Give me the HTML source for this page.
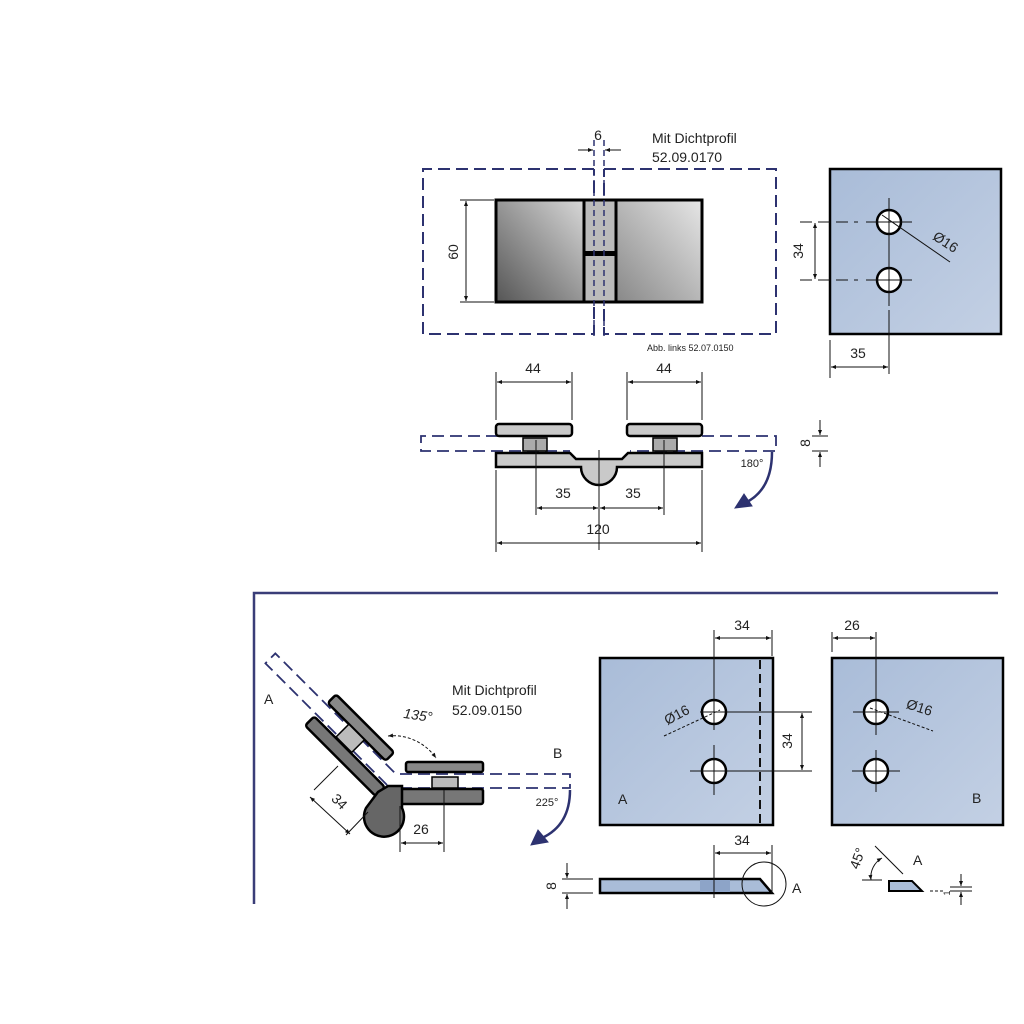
<!DOCTYPE html>
<html><head><meta charset="utf-8"><style>
html,body{margin:0;padding:0;background:#fff;}
svg{display:block;}
text{font-family:"Liberation Sans",sans-serif;fill:#222;}
</style></head><body>
<svg width="1024" height="1024" viewBox="0 0 1024 1024" xmlns="http://www.w3.org/2000/svg">
<defs>
<marker id="ar" viewBox="0 0 10 10" refX="10" refY="5" markerWidth="7" markerHeight="5" orient="auto-start-reverse"><path d="M0,1 L10,5 L0,9 z" fill="#111"/></marker>
<linearGradient id="gm" x1="0" y1="1" x2="1" y2="0"><stop offset="0" stop-color="#555"/><stop offset="1" stop-color="#d8d8d8"/></linearGradient>
<linearGradient id="gm2" x1="0" y1="1" x2="1" y2="0"><stop offset="0" stop-color="#888"/><stop offset="1" stop-color="#e6e6e6"/></linearGradient>
<linearGradient id="gb" x1="0" y1="0" x2="1" y2="1"><stop offset="0" stop-color="#a9bcd8"/><stop offset="1" stop-color="#c3d0e4"/></linearGradient>
</defs>
<g stroke="#111" stroke-width="1" fill="none">

<!-- TOP FRONT VIEW -->
<g stroke="#2d3270" stroke-width="2" stroke-dasharray="12,6">
<path d="M594,169 H423 V334 H594 V169"/>
<path d="M604,169 H776 V334 H604 V169"/>
</g>
<rect x="496" y="200" width="88" height="102" fill="url(#gm)" stroke="#000" stroke-width="3"/>
<rect x="616" y="200" width="86" height="102" fill="url(#gm2)" stroke="#000" stroke-width="3"/>
<rect x="584" y="200" width="32" height="102" fill="#bbb" stroke="#000" stroke-width="3"/>
<rect x="584" y="251" width="32" height="5" fill="#000" stroke="none"/>
<g stroke="#2d3270" stroke-width="1.5" stroke-dasharray="6,4"><line x1="594" y1="140" x2="594" y2="340"/><line x1="604" y1="140" x2="604" y2="340"/></g>
<line x1="460" y1="200" x2="494" y2="200"/><line x1="460" y1="302" x2="494" y2="302"/>
<line x1="466" y1="201" x2="466" y2="301" marker-start="url(#ar)" marker-end="url(#ar)"/>
<line x1="578" y1="150" x2="593" y2="150" marker-end="url(#ar)"/>
<line x1="621" y1="150" x2="605" y2="150" marker-end="url(#ar)"/>

<!-- right plate -->
<rect x="830" y="169" width="171" height="165" fill="url(#gb)" stroke="#000" stroke-width="2.5"/>
<circle cx="889" cy="222" r="12" fill="#fff" stroke="#000" stroke-width="2.5"/>
<circle cx="889" cy="280" r="12" fill="#fff" stroke="#000" stroke-width="2.5"/>
<line x1="889" y1="198" x2="889" y2="306"/><line x1="889" y1="310" x2="889" y2="374"/>
<line x1="866" y1="222" x2="912" y2="222"/><line x1="866" y1="280" x2="912" y2="280"/>
<line x1="800" y1="222" x2="858" y2="222" stroke-dasharray="12,6"/>
<line x1="800" y1="280" x2="858" y2="280" stroke-dasharray="12,6"/>
<line x1="815" y1="223" x2="815" y2="279" marker-start="url(#ar)" marker-end="url(#ar)"/>
<line x1="882" y1="215" x2="950" y2="262"/>
<line x1="830" y1="340" x2="830" y2="378"/>
<line x1="831" y1="367" x2="888" y2="367" marker-start="url(#ar)" marker-end="url(#ar)"/>

<!-- SIDE VIEW -->
<line x1="496" y1="372" x2="496" y2="420"/><line x1="572" y1="372" x2="572" y2="420"/>
<line x1="627" y1="372" x2="627" y2="420"/><line x1="702" y1="372" x2="702" y2="420"/>
<line x1="497" y1="382" x2="571" y2="382" marker-start="url(#ar)" marker-end="url(#ar)"/>
<line x1="628" y1="382" x2="701" y2="382" marker-start="url(#ar)" marker-end="url(#ar)"/>
<g stroke="#2d3270" stroke-width="1.8" stroke-dasharray="12,6">
<path d="M570,436 H421 V451 H570"/><path d="M630,436 H776 V451 H630"/>
</g>
<rect x="496" y="424" width="76" height="12" rx="3" fill="#c9c9c9" stroke="#000" stroke-width="2.5"/>
<rect x="627" y="424" width="75" height="12" rx="3" fill="#c9c9c9" stroke="#000" stroke-width="2.5"/>
<rect x="523" y="438" width="24" height="13" fill="#aaa" stroke="#000" stroke-width="1.5"/>
<rect x="653" y="438" width="24" height="13" fill="#aaa" stroke="#000" stroke-width="1.5"/>
<path d="M496,453 H570 L576,459 H622 L628,453 H702 V467 H617 A18,18 0 0 1 581,467 H496 Z" fill="#c9c9c9" stroke="#000" stroke-width="2.5"/>
<line x1="599" y1="450" x2="599" y2="550"/>
<line x1="536" y1="440" x2="536" y2="515"/><line x1="664" y1="440" x2="664" y2="515"/>
<line x1="496" y1="470" x2="496" y2="552"/><line x1="702" y1="470" x2="702" y2="552"/>
<line x1="537" y1="508" x2="598" y2="508" marker-start="url(#ar)" marker-end="url(#ar)"/>
<line x1="600" y1="508" x2="663" y2="508" marker-start="url(#ar)" marker-end="url(#ar)"/>
<line x1="497" y1="543" x2="701" y2="543" marker-start="url(#ar)" marker-end="url(#ar)"/>
<line x1="812" y1="436" x2="828" y2="436"/><line x1="812" y1="451" x2="828" y2="451"/>
<line x1="820" y1="420" x2="820" y2="435" marker-end="url(#ar)"/><line x1="820" y1="467" x2="820" y2="452" marker-end="url(#ar)"/>
<path d="M772,452 Q772,490 745,503" stroke="#2d3270" stroke-width="2.5"/>
<path d="M735,508 L744,494 L752,506 Z" fill="#2d3270" stroke="#2d3270"/>

<!-- FRAME -->
<path d="M998,593 H254 V904" stroke="#3a3d78" stroke-width="2.5"/>

<!-- ANGLED HINGE -->
<g transform="translate(392,780) rotate(-135)">
<g stroke="#2d3270" stroke-width="1.8" stroke-dasharray="12,6"><path d="M0,-7 H172 V7 H0"/></g>
<rect x="18" y="9" width="82" height="12" rx="3" fill="#888" stroke="#000" stroke-width="2.5"/>
<rect x="0" y="-23" width="100" height="13" rx="3" fill="#777" stroke="#000" stroke-width="2.5"/>
<rect x="48" y="-9" width="22" height="18" fill="#bbb" stroke="#000" stroke-width="1.5"/>
</g>
<g stroke="#2d3270" stroke-width="1.8" stroke-dasharray="12,6"><path d="M400,774 H570 V788 H400"/></g>
<rect x="406" y="762" width="77" height="10" rx="2" fill="#888" stroke="#000" stroke-width="2.5"/>
<rect x="432" y="777" width="26" height="11" fill="#bbb" stroke="#000" stroke-width="1.5"/>
<rect x="400" y="789" width="83" height="15" rx="2" fill="#777" stroke="#000" stroke-width="2.5"/>
<path d="M378,792 L388,786 H402 V808 A20,20 0 1 1 366,808 Z" fill="#666" stroke="#000" stroke-width="2.5"/>
<line x1="400" y1="806" x2="400" y2="852"/><line x1="444" y1="790" x2="444" y2="852"/>
<line x1="401" y1="843" x2="443" y2="843" marker-start="url(#ar)" marker-end="url(#ar)"/>
<line x1="314" y1="790" x2="338" y2="766"/><line x1="346" y1="835" x2="368" y2="812"/>
<line x1="310" y1="797" x2="350" y2="834" marker-start="url(#ar)" marker-end="url(#ar)"/>
<path d="M388,736 A52,52 0 0 1 436,758" stroke-dasharray="3,2" marker-start="url(#ar)" marker-end="url(#ar)"/>
<path d="M570,790 Q570,825 542,838" stroke="#2d3270" stroke-width="2.5"/>
<path d="M531,845 L538,830 L548,842 Z" fill="#2d3270" stroke="#2d3270"/>

<!-- PLATE A -->
<rect x="600" y="658" width="173" height="167" fill="url(#gb)" stroke="#000" stroke-width="2.5"/>
<line x1="760" y1="660" x2="760" y2="823" stroke-width="2" stroke-dasharray="9,5"/>
<circle cx="714" cy="712" r="12" fill="#fff" stroke="#000" stroke-width="2.5"/>
<circle cx="714" cy="771" r="12" fill="#fff" stroke="#000" stroke-width="2.5"/>
<line x1="714" y1="630" x2="714" y2="730"/><line x1="714" y1="745" x2="714" y2="795"/>
<line x1="690" y1="771" x2="738" y2="771"/>
<line x1="700" y1="712" x2="812" y2="712"/><line x1="738" y1="771" x2="812" y2="771"/>
<line x1="772" y1="630" x2="772" y2="656"/>
<line x1="715" y1="638" x2="771" y2="638" marker-start="url(#ar)" marker-end="url(#ar)"/>
<line x1="802" y1="713" x2="802" y2="770" marker-start="url(#ar)" marker-end="url(#ar)"/>
<line x1="664" y1="736" x2="720" y2="710" stroke-dasharray="3,2"/>

<!-- PLATE B -->
<rect x="832" y="658" width="171" height="167" fill="url(#gb)" stroke="#000" stroke-width="2.5"/>
<circle cx="876" cy="712" r="12" fill="#fff" stroke="#000" stroke-width="2.5"/>
<circle cx="876" cy="771" r="12" fill="#fff" stroke="#000" stroke-width="2.5"/>
<line x1="876" y1="632" x2="876" y2="735"/><line x1="876" y1="750" x2="876" y2="792"/>
<line x1="853" y1="712" x2="899" y2="712"/><line x1="852" y1="771" x2="900" y2="771"/>
<line x1="832" y1="632" x2="832" y2="652"/>
<line x1="833" y1="638" x2="875" y2="638" marker-start="url(#ar)" marker-end="url(#ar)"/>
<line x1="870" y1="708" x2="933" y2="731" stroke-dasharray="3,2"/>

<!-- strip -->
<path d="M600,879 H760 L772,893 H600 Z" fill="#a9bcd8" stroke="#000" stroke-width="2.5"/>
<rect x="700" y="880" width="30" height="12" fill="#8da4c8" stroke="none"/>
<line x1="714" y1="845" x2="714" y2="898"/><line x1="772" y1="845" x2="772" y2="893"/>
<line x1="715" y1="853" x2="771" y2="853" marker-start="url(#ar)" marker-end="url(#ar)"/>
<circle cx="764" cy="884" r="22"/>
<line x1="562" y1="879" x2="593" y2="879"/><line x1="562" y1="893" x2="593" y2="893"/>
<line x1="567" y1="863" x2="567" y2="878" marker-end="url(#ar)"/><line x1="567" y1="909" x2="567" y2="894" marker-end="url(#ar)"/>

<!-- detail -->
<path d="M889,881 H912 L922,891 H889 Z" fill="#a9bcd8" stroke="#000" stroke-width="2"/>
<line x1="862" y1="880" x2="882" y2="880"/><line x1="875" y1="846" x2="903" y2="874"/>
<path d="M871,880 A22,22 0 0 1 882,858" marker-start="url(#ar)" marker-end="url(#ar)"/>
<line x1="930" y1="891" x2="944" y2="891" stroke-dasharray="3,2"/>
<line x1="950" y1="887" x2="972" y2="887"/><line x1="950" y1="891" x2="972" y2="891"/>
<line x1="961" y1="874" x2="961" y2="886" marker-end="url(#ar)"/><line x1="961" y1="905" x2="961" y2="892" marker-end="url(#ar)"/>
</g>

<!-- TEXTS -->
<g font-size="14">
<text x="598" y="140" text-anchor="middle">6</text>
<text x="652" y="143">Mit Dichtprofil</text>
<text x="652" y="162">52.09.0170</text>
<text x="647" y="351" font-size="9">Abb. links 52.07.0150</text>
<text transform="translate(458,252) rotate(-90)" text-anchor="middle">60</text>
<text transform="translate(803,251) rotate(-90)" text-anchor="middle">34</text>
<text transform="translate(943,246) rotate(33)" text-anchor="middle">Ø16</text>
<text x="858" y="358" text-anchor="middle">35</text>
<text x="533" y="373" text-anchor="middle">44</text>
<text x="664" y="373" text-anchor="middle">44</text>
<text transform="translate(810,443) rotate(-90)" text-anchor="middle">8</text>
<text x="752" y="467" text-anchor="middle" font-size="11">180°</text>
<text x="563" y="498" text-anchor="middle">35</text>
<text x="633" y="498" text-anchor="middle">35</text>
<text x="598" y="534" text-anchor="middle">120</text>
<text x="264" y="704">A</text>
<text x="452" y="695">Mit Dichtprofil</text>
<text x="452" y="715">52.09.0150</text>
<text x="418" y="720" text-anchor="middle" font-style="italic" transform="rotate(8 418 715)">135°</text>
<text x="553" y="758">B</text>
<text x="547" y="806" text-anchor="middle" font-size="11">225°</text>
<text transform="translate(336,805) rotate(45)" text-anchor="middle">34</text>
<text x="421" y="834" text-anchor="middle">26</text>
<text x="742" y="630" text-anchor="middle">34</text>
<text transform="translate(679,719) rotate(-28)" text-anchor="middle">Ø16</text>
<text transform="translate(792,741) rotate(-90)" text-anchor="middle">34</text>
<text x="618" y="804">A</text>
<text x="852" y="630" text-anchor="middle">26</text>
<text transform="translate(918,712) rotate(18)" text-anchor="middle">Ø16</text>
<text x="972" y="803">B</text>
<text x="742" y="845" text-anchor="middle">34</text>
<text transform="translate(556,886) rotate(-90)" text-anchor="middle">8</text>
<text x="792" y="893">A</text>
<text transform="translate(862,860) rotate(-70)" text-anchor="middle">45°</text>
<text x="913" y="865">A</text>
<text transform="translate(950,893) rotate(-90)" text-anchor="middle" font-size="9">1</text>
</g>
</svg>
</body></html>
